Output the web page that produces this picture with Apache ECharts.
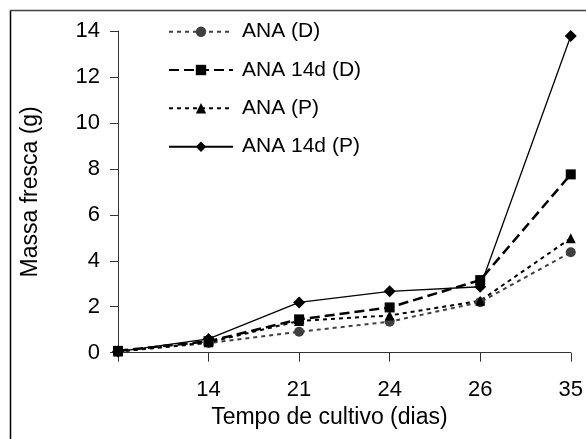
<!DOCTYPE html>
<html>
<head>
<meta charset="utf-8">
<script src="https://cdn.jsdelivr.net/npm/echarts@6/dist/echarts.min.js"></script>
<style>html,body{margin:0;padding:0;background:#fff;}#c{width:586px;height:439px;}</style>
</head>
<body>
<div id="c"></div>
<script>
var categories = ['', '14', '21', '24', '26', '35'];
var anaD = [0.05, 0.42, 0.91, 1.35, 2.2, 4.37];
var ana14dD = [0.08, 0.5, 1.45, 1.97, 3.16, 7.76];
var anaP = [0.05, 0.45, 1.38, 1.62, 2.26, 4.98];
var ana14dP = [0.05, 0.6, 2.19, 2.67, 2.87, 13.78];
var seriesNames = ['ANA (D)', 'ANA 14d (D)', 'ANA (P)', 'ANA 14d (P)'];
var yTicks = [0, 2, 4, 6, 8, 10, 12, 14];

var FONT = '"Liberation Sans", Arial, sans-serif';
var chart = echarts.init(document.getElementById('c'), null, {renderer: 'canvas'});

var legendRows = [31.7, 70, 108.3, 146.7];
var legends = seriesNames.map(function (n, i) {
  return {
    data: [n], orient: 'vertical', left: 168, top: legendRows[i] - 10.5,
    padding: 0, itemWidth: 64, itemHeight: 13, selectedMode: false,
    textStyle: {fontFamily: FONT, fontSize: 21, color: '#000', padding: [0, 0, 0, 4]}
  };
});

chart.setOption({
  animation: false,
  backgroundColor: '#fff',
  legend: legends,
  grid: {left: 118, right: 13, top: 31, bottom: 86.3, containLabel: false},
  xAxis: {
    type: 'category', data: categories, boundaryGap: false,
    name: 'Tempo de cultivo (dias)', nameLocation: 'middle', nameGap: 53,
    nameTextStyle: {fontFamily: FONT, fontSize: 23, color: '#000', padding: [0, 30, 0, 0]},
    axisLine: {lineStyle: {color: '#333', width: 1}},
    axisTick: {show: true, length: 9, alignWithLabel: true, lineStyle: {color: '#333'}},
    axisLabel: {fontFamily: FONT, fontSize: 22, color: '#000', margin: 26, interval: 0}
  },
  yAxis: {
    type: 'value', min: yTicks[0], max: yTicks[yTicks.length - 1], interval: 2,
    name: 'Massa fresca (g)', nameLocation: 'middle', nameGap: 76, nameRotate: 90,
    nameTextStyle: {fontFamily: FONT, fontSize: 23, color: '#000'},
    axisLine: {show: true, lineStyle: {color: '#333', width: 1}},
    axisTick: {show: true, length: 8, lineStyle: {color: '#333'}},
    splitLine: {show: false},
    axisLabel: {fontFamily: FONT, fontSize: 22, color: '#000', margin: 18}
  },
  series: [
    {name: seriesNames[0], type: 'line', data: anaD, symbol: 'circle', symbolSize: 10,
     itemStyle: {color: '#404040'}, lineStyle: {color: '#404040', width: 2, type: [4, 4]}},
    {name: seriesNames[1], type: 'line', data: ana14dD, symbol: 'rect', symbolSize: 10,
     itemStyle: {color: '#000'}, lineStyle: {color: '#000', width: 2.5, type: [10, 5]}},
    {name: seriesNames[2], type: 'line', data: anaP, symbol: 'triangle', symbolSize: 10,
     itemStyle: {color: '#000'}, lineStyle: {color: '#000', width: 2, type: [4, 4]}},
    {name: seriesNames[3], type: 'line', data: ana14dP, symbol: 'diamond', symbolSize: 12,
     itemStyle: {color: '#000'}, lineStyle: {color: '#000', width: 1.3, type: 'solid'}}
  ],
  graphic: [
    {type: 'line', shape: {x1: 10.5, y1: 10, x2: 10.5, y2: 439}, style: {stroke: '#000', lineWidth: 1.5}},
    {type: 'line', shape: {x1: 10, y1: 10.5, x2: 586, y2: 10.5}, style: {stroke: '#444', lineWidth: 1.5}}
  ]
});
</script>
</body>
</html>
